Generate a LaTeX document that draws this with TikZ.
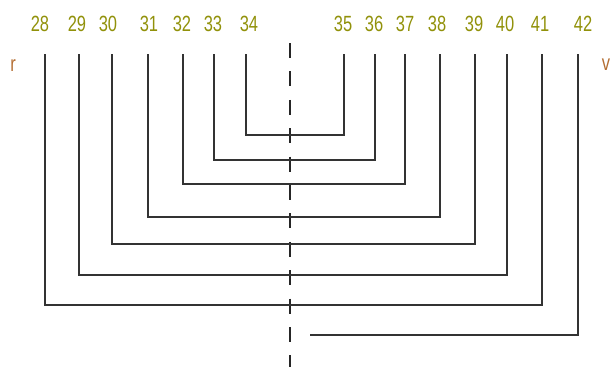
\documentclass[tikz,border=0pt]{standalone}
\usepackage{fontspec}
\newfontfamily\pinfont[FakeStretch=0.75]{Liberation Sans}
\usetikzlibrary{calc}
\definecolor{numcol}{RGB}{145,145,10}
\definecolor{endcol}{RGB}{180,110,50}

\begin{document}
\begin{tikzpicture}[
    x=1pt, y=-1pt,
    num_style/.style={inner sep=0pt, anchor=base, text=numcol, font=\pinfont\fontsize{22}{22}\selectfont},
    end_style/.style={inner sep=0pt, anchor=base, text=endcol, font=\pinfont\fontsize{22}{22}\selectfont},
    wire/.style={line width=1.2pt, black!80},
    axis_line/.style={line width=1.2pt, black!85, dash pattern=on 15pt off 13.4pt}
]
\useasboundingbox (0,0) rectangle (611,367);

% ===== pin numbers =====
\node[num_style] (n28) at (40,31.5) {28};
\node[num_style] (n29) at (77,31.5) {29};
\node[num_style] (n30) at (108,31.5) {30};
\node[num_style] (n31) at (149,31.5) {31};
\node[num_style] (n32) at (182,31.5) {32};
\node[num_style] (n33) at (213,31.5) {33};
\node[num_style] (n34) at (249,31.5) {34};
\node[num_style] (n35) at (343,31.5) {35};
\node[num_style] (n36) at (374,31.5) {36};
\node[num_style] (n37) at (405,31.5) {37};
\node[num_style] (n38) at (437,31.5) {38};
\node[num_style] (n39) at (474,31.5) {39};
\node[num_style] (n40) at (505,31.5) {40};
\node[num_style] (n41) at (540,31.5) {41};
\node[num_style] (n42) at (583,31.5) {42};

% end letters
\node[end_style] (r) at (13,71.5) {r};
\node[end_style] (v) at (606,70.5) {v};

% ===== wire tops =====
\coordinate (t28) at (45,54);
\coordinate (t29) at (79,54);
\coordinate (t30) at (112,54);
\coordinate (t31) at (148,54);
\coordinate (t32) at (183,54);
\coordinate (t33) at (214,54);
\coordinate (t34) at (246,54);
\coordinate (t35) at (344,54);
\coordinate (t36) at (375,54);
\coordinate (t37) at (405,54);
\coordinate (t38) at (440,54);
\coordinate (t39) at (475,54);
\coordinate (t40) at (507,54);
\coordinate (t41) at (542,54);
\coordinate (t42) at (578,54);

% centre axis (dashed)
\coordinate (axtop) at (290,43);
\coordinate (axbot) at (290,367);
\draw[axis_line] (axtop) -- (axbot);

% ===== nested wires =====
\draw[wire] (t34) |- (t35 |- 0,135) -- (t35);
\draw[wire] (t33) |- (t36 |- 0,160) -- (t36);
\draw[wire] (t32) |- (t37 |- 0,184) -- (t37);
\draw[wire] (t31) |- (t38 |- 0,217) -- (t38);
\draw[wire] (t30) |- (t39 |- 0,244) -- (t39);
\draw[wire] (t29) |- (t40 |- 0,275) -- (t40);
\draw[wire] (t28) |- (t41 |- 0,305) -- (t41);

% last wire stops short of the axis
\coordinate (w42) at (310,335);
\draw[wire] (t42) |- (w42);

\end{tikzpicture}
\end{document}
